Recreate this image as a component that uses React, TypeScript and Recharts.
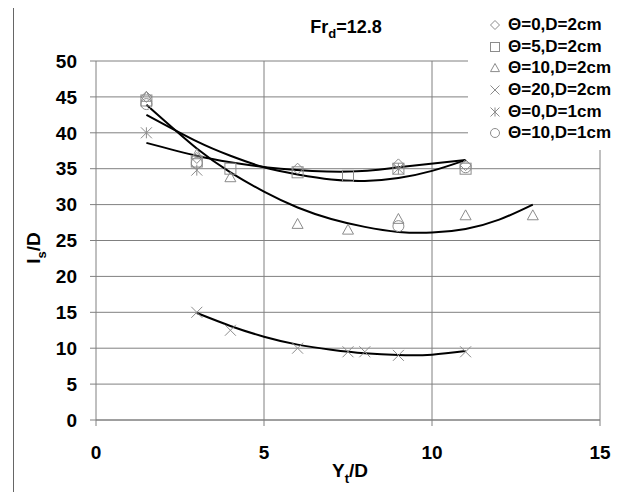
import { CartesianGrid, ComposedChart, Legend, Line, Scatter, XAxis, YAxis } from "recharts";

// measured points, one list per test case
const theta0D2 = [
  { x: 1.5, y: 45 },
  { x: 3, y: 36.5 },
  { x: 6, y: 35 },
  { x: 9, y: 35.6 },
  { x: 11, y: 35.5 },
];
const theta5D2 = [
  { x: 1.5, y: 44.5 },
  { x: 3, y: 36 },
  { x: 4, y: 35 },
  { x: 6, y: 34.5 },
  { x: 7.5, y: 34 },
  { x: 9, y: 35 },
  { x: 11, y: 35 },
];
const theta10D2 = [
  { x: 1.5, y: 45 },
  { x: 3, y: 37 },
  { x: 4, y: 33.8 },
  { x: 6, y: 27.3 },
  { x: 7.5, y: 26.5 },
  { x: 9, y: 28 },
  { x: 11, y: 28.5 },
  { x: 13, y: 28.5 },
];
const theta20D2 = [
  { x: 3, y: 15 },
  { x: 4, y: 12.5 },
  { x: 6, y: 10 },
  { x: 7.5, y: 9.5 },
  { x: 8, y: 9.5 },
  { x: 9, y: 9 },
  { x: 11, y: 9.5 },
];
const theta0D1 = [
  { x: 1.5, y: 40 },
  { x: 3, y: 34.8 },
  { x: 9, y: 35 },
];
const theta10D1 = [
  { x: 1.5, y: 44 },
  { x: 3, y: 35.8 },
  { x: 9, y: 27 },
  { x: 11, y: 35.2 },
];

// trend curves
const trendUpper = [
  { x: 1.5, y: 38.6 },
  { x: 3, y: 36.8 },
  { x: 4, y: 35.9 },
  { x: 5.5, y: 35 },
  { x: 7.5, y: 34.6 },
  { x: 9, y: 35.2 },
  { x: 11, y: 36.2 },
];
const trendMiddle = [
  { x: 1.5, y: 42.5 },
  { x: 3, y: 38.8 },
  { x: 4, y: 36.8 },
  { x: 5, y: 35.2 },
  { x: 6, y: 34.2 },
  { x: 7, y: 33.5 },
  { x: 8, y: 33.3 },
  { x: 9, y: 33.7 },
  { x: 10, y: 34.7 },
  { x: 11, y: 36.2 },
];
const trendTriangle = [
  { x: 1.5, y: 43.9 },
  { x: 3, y: 37.8 },
  { x: 4, y: 34.5 },
  { x: 5, y: 31.8 },
  { x: 6, y: 29.6 },
  { x: 7, y: 28 },
  { x: 8, y: 26.9 },
  { x: 9, y: 26.2 },
  { x: 10, y: 26.1 },
  { x: 11, y: 26.6 },
  { x: 12, y: 27.9 },
  { x: 13, y: 30 },
];
const trendCross = [
  { x: 3, y: 14.9 },
  { x: 4, y: 13.1 },
  { x: 5, y: 11.6 },
  { x: 6, y: 10.5 },
  { x: 7, y: 9.8 },
  { x: 8, y: 9.3 },
  { x: 9, y: 9.05 },
  { x: 10, y: 9.1 },
  { x: 11, y: 9.6 },
];

const xTicks = [0, 5, 10, 15];
const yTicks = [0, 5, 10, 15, 20, 25, 30, 35, 40, 45, 50];
const legendLabels = ["Θ=0,D=2cm", "Θ=5,D=2cm", "Θ=10,D=2cm", "Θ=20,D=2cm", "Θ=0,D=1cm", "Θ=10,D=1cm"];

type Kind = "diamond" | "square" | "triangle" | "cross" | "asterisk" | "circle";
const kinds: Kind[] = ["diamond", "square", "triangle", "cross", "asterisk", "circle"];

const MARK = "#8c8c8c";
const FONT = "'Liberation Sans', Arial, sans-serif";

function Marker({ kind, cx, cy, r }: { kind: Kind; cx: number; cy: number; r: number }) {
  const s = { fill: "none", stroke: MARK, strokeWidth: 1 };
  switch (kind) {
    case "diamond":
      return <path d={`M${cx},${cy - r}L${cx + r},${cy}L${cx},${cy + r}L${cx - r},${cy}Z`} {...s} />;
    case "square":
      return <rect x={cx - r} y={cy - r} width={2 * r} height={2 * r} {...s} />;
    case "triangle":
      return <path d={`M${cx},${cy - r}L${cx + r},${cy + r * 0.8}L${cx - r},${cy + r * 0.8}Z`} {...s} />;
    case "cross":
      return (
        <path d={`M${cx - r},${cy - r}L${cx + r},${cy + r}M${cx + r},${cy - r}L${cx - r},${cy + r}`} {...s} />
      );
    case "asterisk":
      return (
        <path
          d={`M${cx},${cy - r}L${cx},${cy + r}M${cx - r},${cy - r}L${cx + r},${cy + r}M${cx + r},${cy - r}L${cx - r},${cy + r}`}
          {...s}
        />
      );
    default:
      return <circle cx={cx} cy={cy} r={r} {...s} />;
  }
}

const shapeFor = (kind: Kind) => (props: any) => <Marker kind={kind} cx={props.cx} cy={props.cy} r={5.5} />;

const pointSets = [theta0D2, theta5D2, theta10D2, theta20D2, theta0D1, theta10D1];
const trends = [trendUpper, trendMiddle, trendTriangle, trendCross];

function renderLegend() {
  return (
    <div style={{ background: "#fff", padding: "5px 0 6px 21px", fontFamily: FONT }}>
      {legendLabels.map((label, i) => (
        <div key={label} style={{ display: "flex", alignItems: "center", height: 21.7 }}>
          <svg width={12} height={12} style={{ marginRight: 7 }}>
            <Marker kind={kinds[i]} cx={6} cy={6} r={4.5} />
          </svg>
          <span style={{ fontSize: 17, fontWeight: "bold", color: "#000" }}>{label}</span>
        </div>
      ))}
    </div>
  );
}

export default function App() {
  const tick = { fill: "#000", fontSize: 19, fontWeight: "bold", fontFamily: FONT };
  return (
    <div style={{ margin: -8, width: 636, height: 500, position: "relative", background: "#fff" }}>
      <div
        style={{
          position: "absolute",
          left: 13,
          top: 7,
          width: 640,
          height: 500,
          borderLeft: "1px solid #666",
          borderTop: "1px solid #666",
        }}
      />
      <div
        style={{
          position: "absolute",
          left: 246,
          width: 200,
          top: 17,
          textAlign: "center",
          fontFamily: FONT,
          fontWeight: "bold",
          fontSize: 18,
        }}
      >
        Fr<sub style={{ fontSize: 13 }}>d</sub>=12.8
      </div>
      <ComposedChart width={636} height={500} margin={{ top: 61, right: 36, bottom: 20, left: 0 }}>
        <CartesianGrid stroke="#808080" strokeWidth={1} verticalPoints={[264, 432, 600]} />
        <XAxis
          dataKey="x"
          type="number"
          domain={[0, 15]}
          ticks={xTicks}
          height={60}
          tickSize={6}
          tickMargin={20}
          stroke="#808080"
          tick={tick}
          label={(p: any) => (
            <text x={350} y={477} textAnchor="middle" fontFamily={FONT} fontWeight="bold" fontSize={19}>
              Y<tspan fontSize={13} dy={6}>t</tspan>
              <tspan dy={-6}>/D</tspan>
            </text>
          )}
        />
        <YAxis
          dataKey="y"
          type="number"
          domain={[0, 50]}
          ticks={yTicks}
          width={96}
          tickSize={6}
          tickMargin={13}
          stroke="#808080"
          tick={tick}
          label={(p: any) => (
            <text
              x={40}
              y={248}
              transform="rotate(-90 40 248)"
              textAnchor="middle"
              fontFamily={FONT}
              fontWeight="bold"
              fontSize={19}
            >
              I<tspan fontSize={13} dy={6}>s</tspan>
              <tspan dy={-6}>/D</tspan>
            </text>
          )}
        />
        <Legend
          layout="vertical"
          align="center"
          verticalAlign="middle"
          content={renderLegend}
          wrapperStyle={{ top: 9, left: 468, width: 168 }}
        />
        {trends.map((t, i) => (
          <Line
            key={`t${i}`}
            data={t}
            dataKey="y"
            type="natural"
            stroke="#000"
            strokeWidth={2}
            dot={false}
            legendType="none"
            isAnimationActive={false}
          />
        ))}
        {pointSets.map((pts, i) => (
          <Scatter
            key={`s${i}`}
            data={pts}
            dataKey="y"
            name={legendLabels[i]}
            shape={shapeFor(kinds[i])}
            isAnimationActive={false}
          />
        ))}
      </ComposedChart>
    </div>
  );
}
